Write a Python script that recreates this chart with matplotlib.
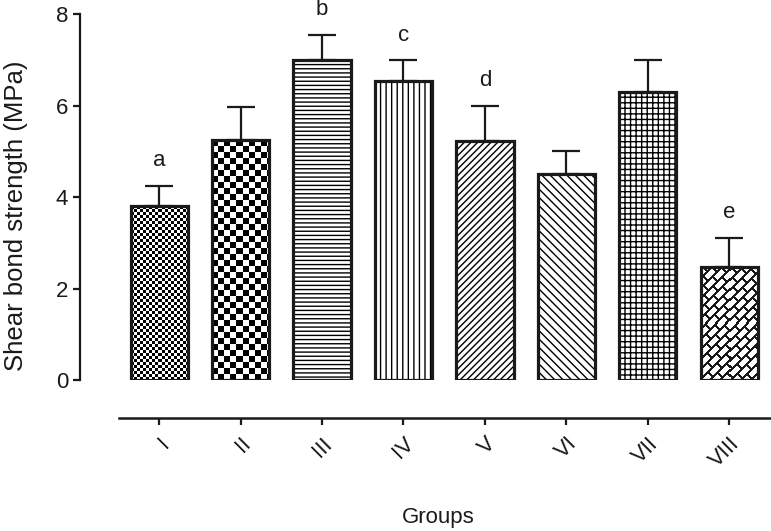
import numpy as np
import matplotlib
matplotlib.use('Agg')
import matplotlib.pyplot as plt

# data
groups = ['I', 'II', 'III', 'IV', 'V', 'VI', 'VII', 'VIII']
means = [3.8, 5.25, 7.0, 6.55, 5.22, 4.5, 6.3, 2.48]
sd = [0.45, 0.72, 0.55, 0.44, 0.78, 0.52, 0.71, 0.63]
letters = ['a', '', 'b', 'c', 'd', '', '', 'e']

hatches = [None, None, '----', '|||', '/////', '\\\\\\\\', '+++', None]
patterns = ['checker3', 'checker6', None, None, None, None, None, 'brick']

plt.rcParams['font.family'] = ['Liberation Sans', 'DejaVu Sans']
plt.rcParams['hatch.linewidth'] = 1.0

W, H, DPI = 7.71, 5.31, 100
fig = plt.figure(figsize=(W, H), dpi=DPI)
ax = fig.add_axes([80 / 771, 1 - 380 / 531, 691 / 771, 365.7 / 531])

x = np.arange(len(groups))
xlim = (-0.97, 7.51)
ylim = (0, 8)
bw = 0.7

bars = ax.bar(x, means, width=bw, color='white', edgecolor='black',
              linewidth=0, zorder=1)
for b, h in zip(bars, hatches):
    if h:
        b.set_hatch(h)
        b.set_linewidth(0)


def pattern_img(kind, npx_x, npx_y):
    jj, ii = np.meshgrid(np.arange(npx_x), np.arange(npx_y))
    if kind == 'checker3':
        return ((jj // 3 + ii // 3) % 2).astype(float)
    if kind == 'checker6':
        return ((jj // 6 + ii // 6) % 2).astype(float)
    # brick-like diagonal pattern
    yy = -ii
    a = jj - yy
    s = jj + yy
    P, L = 10.0, 18.0
    row = np.floor(a / P)
    mortar1 = (a % P) < 2.6
    mortar2 = ((s + row * L / 2) % L) < 2.6
    return np.where(mortar1 | mortar2, 0.1, 1.0)


ax_w_px = 691
ax_h_px = 365.7
px_x = ax_w_px / (xlim[1] - xlim[0])
px_y = ax_h_px / (ylim[1] - ylim[0])
for b, kind in zip(bars, patterns):
    if kind is None:
        continue
    x0, w, h = b.get_x(), b.get_width(), b.get_height()
    nx = int(round(w * px_x))
    ny = int(round(h * px_y))
    img = pattern_img(kind, nx, ny)
    im = ax.imshow(img, cmap='gray', vmin=0, vmax=1, interpolation='nearest',
                   extent=(x0, x0 + w, 0, h), aspect='auto', zorder=2)
    im.set_clip_path(b)

# outlines on top
ax.bar(x, means, width=bw, facecolor='none', edgecolor='#1a1a1a',
       linewidth=2.3, zorder=3)

ax.errorbar(x, means, yerr=[np.zeros(len(sd)), sd], fmt='none',
            ecolor='#1a1a1a', elinewidth=1.6, capsize=10, capthick=1.6,
            zorder=4)

for xi, m, s, t in zip(x, means, sd, letters):
    if t:
        ax.text(xi, m + s + 0.55, t, ha='center', va='center', fontsize=16,
                color='#1a1a1a')

ax.set_xlim(*xlim)
ax.set_ylim(*ylim)

for sp in ['top', 'right']:
    ax.spines[sp].set_visible(False)
ax.spines['left'].set_linewidth(1.6)
ax.spines['left'].set_color('#1a1a1a')
ax.spines['bottom'].set_position(('outward', 38 * 72 / DPI))
ax.spines['bottom'].set_bounds(-0.49, 7.51)
ax.spines['bottom'].set_linewidth(1.8)
ax.spines['bottom'].set_color('#1a1a1a')

ax.set_yticks([0, 2, 4, 6, 8])
ax.set_xticks(x)
ax.set_xticklabels(groups, rotation=45, ha='right', rotation_mode='anchor')
ax.tick_params(axis='both', length=5, width=1.6, color='#1a1a1a',
               labelsize=16, labelcolor='#1a1a1a')
ax.tick_params(axis='x', pad=6)

ax.set_ylabel('Shear bond strength (MPa)', fontsize=18.5, color='#1a1a1a',
              va='center')
ax.yaxis.set_label_coords(-0.093, 0.45)
ax.set_xlabel('Groups', fontsize=16, color='#1a1a1a', va='center')
ax.xaxis.set_label_coords(0.518, -0.375)

fig.savefig('out.png', dpi=DPI)
